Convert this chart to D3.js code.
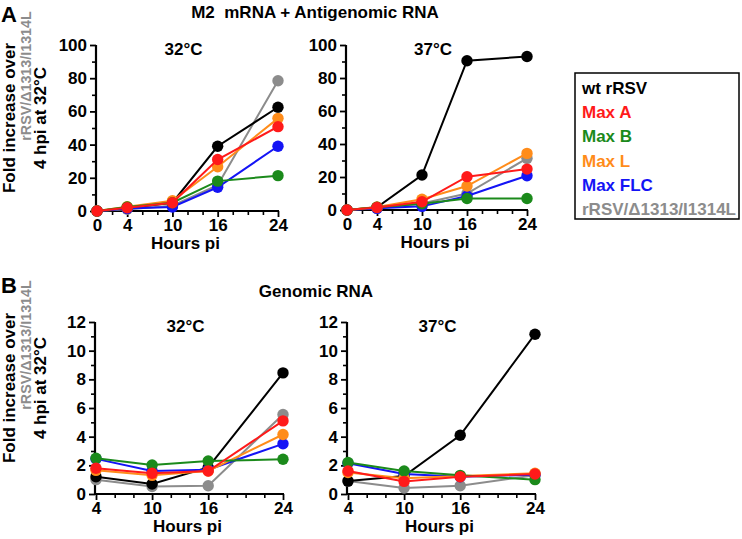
<!DOCTYPE html>
<html>
<head>
<meta charset="utf-8">
<script src="https://cdn.jsdelivr.net/npm/d3@7"></script>
<style>
  html, body { margin: 0; padding: 0; background: #fff; }
  svg { display: block; font-family: "Liberation Sans", Arial, Helvetica, sans-serif; font-weight: bold; }
</style>
</head>
<body>
<svg id="chart" width="742" height="539"></svg>
<script>
// ---------- data ----------
const seriesNames = ["wt rRSV", "Max A", "Max B", "Max L", "Max FLC", "rRSV/\u03941313/I1314L"];
const seriesColors = ["#000000", "#ff1a1a", "#1b8a1b", "#ff8c1a", "#1414f5", "#8c8c8c"];
const drawOrder = [5, 0, 4, 3, 2, 1];

const hoursA = [0, 4, 10, 16, 24];
const hoursB = [4, 10, 16, 24];

// Panel A: M2 mRNA + Antigenomic RNA (fold increase)
const a32_wt   = [0, 1.8, 5.0, 39.0, 62.5];
const a32_maxA = [0, 2.0, 5.0, 31.0, 50.8];
const a32_maxB = [0, 2.4, 5.0, 18.0, 21.3];
const a32_maxL = [0, 2.6, 6.2, 26.7, 55.8];
const a32_flc  = [0, 1.5, 2.4, 14.3, 39.0];
const a32_ref  = [0, 1.0, 3.2, 15.5, 78.5];

const a37_wt   = [0, 1.6, 21.2, 90.5, 93.0];
const a37_maxA = [0, 1.5, 5.0, 20.2, 24.8];
const a37_maxB = [0, 1.7, 3.8, 7.0, 7.0];
const a37_maxL = [0, 1.8, 6.5, 14.5, 34.3];
const a37_flc  = [0, 1.0, 2.2, 8.5, 20.8];
const a37_ref  = [0, 1.0, 4.0, 10.0, 31.3];

// Panel B: Genomic RNA (fold increase)
const b32_wt   = [1.2, 0.7, 1.85, 8.45];
const b32_maxA = [1.8, 1.45, 1.6, 5.1];
const b32_maxB = [2.5, 2.02, 2.3, 2.42];
const b32_maxL = [1.65, 1.3, 1.6, 4.15];
const b32_flc  = [2.45, 1.6, 1.7, 3.5];
const b32_ref  = [1.0, 0.52, 0.58, 5.55];

const b37_wt   = [0.9, 1.25, 4.1, 11.15];
const b37_maxA = [1.6, 0.88, 1.2, 1.4];
const b37_maxB = [2.2, 1.6, 1.3, 1.0];
const b37_maxL = [1.5, 1.1, 1.25, 1.45];
const b37_flc  = [2.15, 1.4, 1.2, 1.35];
const b37_ref  = [0.9, 0.42, 0.58, 1.3];

const yTicksA = [0, 20, 40, 60, 80, 100];
const yTicksB = [0, 2, 4, 6, 8, 10, 12];
const xTicksA = [0, 4, 10, 16, 24];
const xTicksB = [4, 10, 16, 24];

// ---------- drawing ----------
const svg = d3.select("#chart");
const FS = 17;

function panel(opts) {
  const { xr, yr, xd, yd, hours, data, xTicks, yTicks, yMinorStep, title } = opts;
  const x = d3.scaleLinear().domain(xd).range(xr);
  const y = d3.scaleLinear().domain(yd).range(yr);
  const g = svg.append("g");

  const xMinor = d3.range(xd[0], xd[1] + 0.001, 2).filter(v => !xTicks.includes(v));
  const yMinor = d3.range(yd[0], yd[1] + 0.001, yMinorStep).filter(v => !yTicks.includes(v));

  const xAxisMinor = g.append("g").attr("transform", `translate(0,${yr[0]})`)
    .call(d3.axisBottom(x).tickValues(xMinor).tickSize(4).tickFormat(""));
  const yAxisMinor = g.append("g").attr("transform", `translate(${xr[0] - 1},0)`)
    .call(d3.axisLeft(y).tickValues(yMinor).tickSize(4).tickFormat(""));
  [xAxisMinor, yAxisMinor].forEach(a => { a.select(".domain").remove(); a.selectAll("line").attr("stroke-width", 1.6); });

  const xAxis = g.append("g").attr("transform", `translate(0,${yr[0]})`)
    .call(d3.axisBottom(x).tickValues(xTicks).tickSize(6).tickSizeOuter(0).tickPadding(2));
  const yAxis = g.append("g").attr("transform", `translate(${xr[0] - 1},0)`)
    .call(d3.axisLeft(y).tickValues(yTicks).tickSize(6).tickSizeOuter(0).tickPadding(3));
  [xAxis, yAxis].forEach(a => {
    a.select(".domain").attr("stroke-width", 2.2);
    a.selectAll("line").attr("stroke-width", 1.8);
    a.selectAll("text").attr("font-size", FS).attr("font-weight", "bold").attr("fill", "#000")
      .attr("font-family", "Liberation Sans, Arial, sans-serif");
  });
  xAxis.select(".domain").attr("d", `M${xr[0] - 2},0H${xr[1] + 1}`);
  yAxis.select(".domain").attr("d", `M0,${yr[0] + 1}V${yr[1]}`);

  const line = d3.line().x((d, i) => x(hours[i])).y(d => y(d));
  drawOrder.forEach(si => {
    const vals = data[si];
    g.append("path").datum(vals).attr("d", line).attr("fill", "none")
      .attr("stroke", seriesColors[si]).attr("stroke-width", 2);
    g.selectAll(null).data(vals).enter().append("circle")
      .attr("cx", (d, i) => x(hours[i])).attr("cy", d => y(d)).attr("r", 5.7)
      .attr("fill", seriesColors[si]);
  });

  g.append("text").attr("x", (xr[0] + xr[1]) / 2 - 4).attr("y", yr[1] + 10)
    .attr("text-anchor", "middle").attr("font-size", FS).text(title);
  g.append("text").attr("x", (xr[0] + xr[1]) / 2 - 2).attr("y", yr[0] + 38)
    .attr("text-anchor", "middle").attr("font-size", FS).text("Hours pi");
}

function ylabel(cy, cyGray) {
  const g = svg.append("g");
  g.append("text").attr("transform", `translate(15,${cy}) rotate(-90)`).attr("text-anchor", "middle")
    .attr("font-size", FS).text("Fold increase over");
  g.append("text").attr("transform", `translate(31,${cyGray}) rotate(-90)`).attr("text-anchor", "middle")
    .attr("font-size", 14.3).attr("fill", "#8c8c8c")
    .text(seriesNames[5]);
  g.append("text").attr("transform", `translate(46,${cy}) rotate(-90)`).attr("text-anchor", "middle")
    .attr("font-size", FS).text("4 hpi at 32\u00b0C");
}

// Panel letters & titles
svg.append("text").attr("x", 1).attr("y", 22).attr("font-size", 22).text("A");
svg.append("text").attr("x", 1).attr("y", 293).attr("font-size", 22).text("B");
svg.append("text").attr("x", 315).attr("y", 18).attr("text-anchor", "middle").attr("font-size", FS)
  .attr("xml:space", "preserve").text("M2  mRNA + Antigenomic RNA");
svg.append("text").attr("x", 316).attr("y", 297).attr("text-anchor", "middle").attr("font-size", FS)
  .text("Genomic RNA");

ylabel(118, 76);
ylabel(388, 345);

panel({ xr: [97, 278], yr: [211, 45], xd: [0, 24], yd: [0, 100], hours: hoursA,
  data: [a32_wt, a32_maxA, a32_maxB, a32_maxL, a32_flc, a32_ref],
  xTicks: xTicksA, yTicks: yTicksA, yMinorStep: 10, title: "32\u00b0C" });
panel({ xr: [347, 527], yr: [210, 45], xd: [0, 24], yd: [0, 100], hours: hoursA,
  data: [a37_wt, a37_maxA, a37_maxB, a37_maxL, a37_flc, a37_ref],
  xTicks: xTicksA, yTicks: yTicksA, yMinorStep: 10, title: "37\u00b0C" });
panel({ xr: [96, 283], yr: [494, 322], xd: [4, 24], yd: [0, 12], hours: hoursB,
  data: [b32_wt, b32_maxA, b32_maxB, b32_maxL, b32_flc, b32_ref],
  xTicks: xTicksB, yTicks: yTicksB, yMinorStep: 1, title: "32\u00b0C" });
panel({ xr: [348, 535], yr: [494, 322], xd: [4, 24], yd: [0, 12], hours: hoursB,
  data: [b37_wt, b37_maxA, b37_maxB, b37_maxL, b37_flc, b37_ref],
  xTicks: xTicksB, yTicks: yTicksB, yMinorStep: 1, title: "37\u00b0C" });

// Legend
const lg = svg.append("g");
lg.append("rect").attr("x", 575).attr("y", 73).attr("width", 164).attr("height", 146)
  .attr("fill", "#fff").attr("stroke", "#000").attr("stroke-width", 1.5);
seriesNames.forEach((n, i) => {
  lg.append("text").attr("x", 582).attr("y", 94 + i * 24.2).attr("font-size", FS)
    .attr("fill", seriesColors[i]).text(n);
});
</script>
</body>
</html>
